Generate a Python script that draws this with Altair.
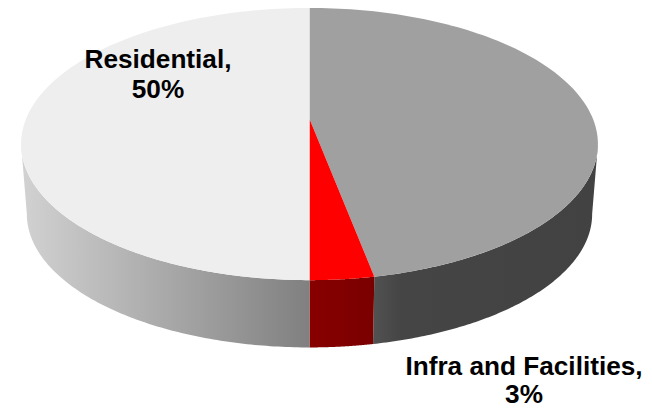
import math
import altair as alt

# Values
names = ["", "Infra and Facilities", "Residential"]
shares = [47, 3, 50]
top_colors = ["#A0A0A0", "#FF0000", "#EEEEEE"]
side_stops = [
    [("#525252", 0.0), ("#454545", 0.12), ("#424242", 1.0)],
    [("#880000", 0.0), ("#7A0000", 1.0)],
    [("#D2D2D2", 0.0), ("#808080", 1.0)],
]

# Perspective disc used by the original 3-D pie (offsets are chart pixels)
CX, APEX_Y = 301.5, 111.0
A, B, P = 283.5, 131.5, 0.184
DEPTH_SCALE, DEPTH_CY = 0.98, 181.5
STEPS = 120


def project(theta, cy=APEX_Y, s=1.0):
    xx, yy = math.sin(theta), math.cos(theta)
    w = 1 + P * yy
    return [CX + s * A * xx / w, cy - s * B * yy / w]


def polygon(ring):
    return [{"type": "Feature", "properties": {},
             "geometry": {"type": "Polygon", "coordinates": [ring + [ring[0]]]}}]


def sweep(t0, t1, **kw):
    return [project(t0 + (t1 - t0) * i / STEPS, **kw) for i in range(STEPS + 1)]


def shape(ring, fill):
    return alt.Chart(alt.Data(values=polygon(ring))).mark_geoshape(
        fill=fill, stroke="transparent", strokeWidth=0
    ).project(type="identity", scale=1, translate=[0, 0])


silhouette = math.acos(-P)
total = sum(shares)
side_layers = []
top_layers = []
start = 0.0
for name, share, col, stops in zip(names, shares, top_colors, side_stops):
    end = start + 2 * math.pi * share / total
    # side wall: the part of the slice's rim that faces the viewer
    lo = max(start, silhouette)
    hi = min(end, 2 * math.pi - silhouette)
    if hi > lo:
        ring = sweep(lo, hi) + sweep(hi, lo, cy=DEPTH_CY, s=DEPTH_SCALE)
        grad = alt.LinearGradient(
            gradient="linear", x1=0, x2=1, y1=0, y2=0,
            stops=[alt.GradientStop(color=c, offset=o) for c, o in stops],
        )
        side_layers.append(shape(ring, grad))
    # top face
    ring = [[CX, APEX_Y]] + sweep(start, end)
    top_layers.append(shape(ring, col))
    start = end


def label(text, x, y):
    return alt.Chart(alt.Data(values=[{"t": text}])).mark_text(
        font="Liberation Sans", fontWeight="bold", fontSize=26.2,
        color="#000000", align="center", baseline="alphabetic",
    ).encode(text="t:N", x=alt.value(x), y=alt.value(y))


texts = [
    label(f"{names[2]},", 150, 60),
    label(f"{shares[2]}%", 150, 90),
    label(f"{names[1]},", 516, 367),
    label(f"{shares[1]}%", 516, 395),
]

chart = alt.layer(*side_layers, *top_layers, *texts).properties(
    width=636, height=402, padding=0, autosize="none"
).configure_view(stroke=None)

chart.save("out.html", embed_options={"renderer": "svg", "actions": False})
